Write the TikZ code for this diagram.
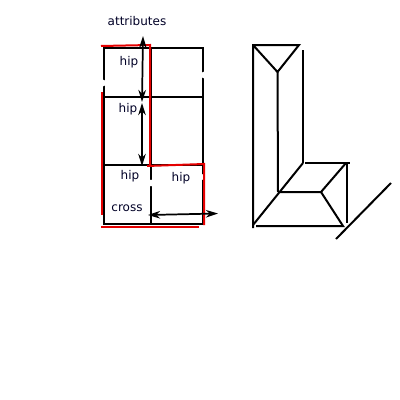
\documentclass[tikz,border=0pt]{standalone}
\usepackage{fontspec}
\setmainfont{DejaVu Sans}
\usetikzlibrary{arrows.meta}
\begin{document}
\begin{tikzpicture}[x=0.75pt, y=-0.75pt, font=\fontsize{9}{11}\selectfont,
  lbl/.style={inner sep=0pt, text=black!85!blue},
  wall/.style={draw=black, line width=1.5pt},
  mark line/.style={draw=red!90!black, line width=1.5pt},
  span/.style={{Stealth[length=3.2mm, width=2mm]}-{Stealth[length=3.2mm, width=2mm]}, line width=1.3pt},
  smudge/.style={fill=white, draw=none, circle, inner sep=0pt, minimum size=5pt}]
\useasboundingbox (0,0) rectangle (400,400);
% grid
\draw[wall] (104,48) rectangle (203,224);
\draw[wall] (104,97) -- (203,97);
\draw[wall] (104,165) -- (203,165);
\draw[wall] (151,48) -- (151,224);
\node[smudge] (gapl) at (103,83) {}; \node[smudge] (gapr) at (204,75) {};
\node[smudge] (gapm) at (151,183) {}; \node[smudge] (gapn) at (204,177) {};
% red outline
\coordinate (r1) at (101,46); \coordinate (r2) at (150,45); \coordinate (r3) at (150,165);
\coordinate (r4) at (147,166); \coordinate (r5) at (204,164); \coordinate (r6) at (204,225);
\coordinate (r7) at (101,227); \coordinate (r8) at (199,227);
\coordinate (r9) at (102,92); \coordinate (r10) at (102,215);
\draw[mark line] (r1) -- (r2) -- (r3);
\draw[mark line] (r4) -- (r5) -- (r6);
\draw[mark line] (r7) -- (r8);
\draw[mark line] (r9) -- (r10);
% labels
\node[lbl] (attr) at (137,21) {attributes};
\node[lbl] (hipa) at (129,62) {hip}; \node[lbl] (hipb) at (128,109) {hip};
\node[lbl] (hipc) at (130,176) {hip}; \node[lbl] (hipd) at (181,178) {hip};
\node[lbl] (cross) at (127,208) {cross};
% arrows
\coordinate (a1) at (143,36); \coordinate (a2) at (142,102); \coordinate (a3) at (142,103);
\coordinate (a4) at (142,166); \coordinate (a5) at (148,215); \coordinate (a6) at (218,213.5);
\draw[span] (a1) -- (a2);
\draw[span] (a3) -- (a4);
\draw[span] (a5) -- (a6);
% right figure
\coordinate (p1) at (253,45); \coordinate (p2) at (299,45); \coordinate (p3) at (277.5,72);
\coordinate (p4) at (253,228); \coordinate (p5) at (278,192); \coordinate (p6) at (303,50);
\coordinate (p7) at (303,163); \coordinate (p8) at (253,225); \coordinate (p9) at (305,163);
\coordinate (p10) at (350,163); \coordinate (p11) at (321,192); \coordinate (p12) at (346,163);
\coordinate (p13) at (343,226); \coordinate (p14) at (256,226); \coordinate (p15) at (347,163);
\coordinate (p16) at (347,223); \coordinate (p17) at (336,239); \coordinate (p18) at (391,183);
\draw[wall] (p4) -- (p1) -- (p2) -- (p3) -- (p1);
\draw[wall] (p3) -- (p5);
\draw[wall] (p6) -- (p7);
\draw[wall] (p8) -- (p7);
\draw[wall] (p9) -- (p10);
\draw[wall] (p5) -- (p11) -- (p12);
\draw[wall] (p11) -- (p13) -- (p14);
\draw[wall] (p15) -- (p16);
\draw[wall] (p17) -- (p18);
\end{tikzpicture}
\end{document}
